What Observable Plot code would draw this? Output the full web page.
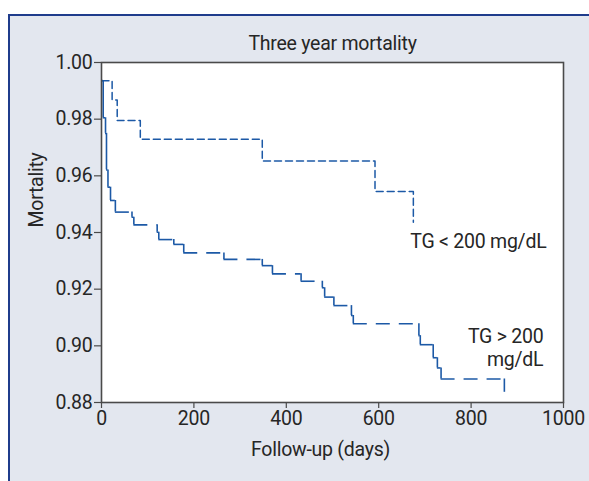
<!DOCTYPE html>
<html>
<head>
<meta charset="utf-8">
<script src="https://cdn.jsdelivr.net/npm/d3@7"></script>
<script src="https://cdn.jsdelivr.net/npm/@observablehq/plot@0.6"></script>
<style>
  html, body { margin: 0; padding: 0; background: #ffffff; }
  #wrap { position: relative; width: 589px; height: 481px; overflow: hidden; }
  #panel { position: absolute; left: 8px; top: 14px; right: 0; bottom: 0;
           background: #e3e7ef; border-top: 2px solid #1f3c8c; border-left: 2px solid #1f3c8c; }
  #chart { position: absolute; left: 0; top: 0; }
</style>
</head>
<body>
<div id="wrap"><div id="panel"></div><div id="chart"></div></div>
<script>
// ---- data ----
const daysLow  = [1, 23, 34, 84, 348, 592, 675];
const survLow  = [0.9936, 0.9868, 0.9795, 0.9729, 0.9652, 0.9545, 0.9436];

const daysHigh = [1, 3.7, 8.7, 10.8, 14, 19.5, 30, 66, 70, 120.5, 124, 156.5, 178, 265, 348, 370,
                  432, 478, 483, 503, 541, 545, 687, 690, 718, 727, 735, 872];
const survHigh = [0.9936, 0.9805, 0.9750, 0.9621, 0.9560, 0.9513, 0.9472, 0.9454, 0.9427, 0.9401,
                  0.9375, 0.9358, 0.9328, 0.9305, 0.9283, 0.9254, 0.9228, 0.9205, 0.9172, 0.9142,
                  0.9107, 0.9078, 0.9036, 0.9004, 0.8958, 0.8922, 0.8883, 0.8836];

const seriesLabels = ["TG < 200 mg/dL", "TG > 200\nmg/dL"];
const xTicks = [0, 200, 400, 600, 800, 1000];
const yTicks = [0.88, 0.90, 0.92, 0.94, 0.96, 0.98, 1.00];
const titleText = "Three year mortality";
const xLabel = "Follow-up (days)";
const yLabel = "Mortality";

// ---- derived tables ----
const low = daysLow.map((d, i) => ({day: d, surv: survLow[i]}));
const hHoriz = daysHigh.slice(0, -1).map((d, i) => ({x1: d, x2: daysHigh[i + 1], y: survHigh[i]}));
const hVert = daysHigh.slice(1).map((d, i) => ({x: d, y1: survHigh[i], y2: survHigh[i + 1]}));
const lowEnd = [{day: daysLow.at(-1), surv: survLow.at(-1), label: seriesLabels[0]}];
const highEnd = [{day: daysHigh.at(-1), surv: survHigh.at(-1), label: seriesLabels[1]}];

const blue = "#1c59a6";
const font = "Roboto, 'Liberation Sans', sans-serif";

const chart = Plot.plot({
  width: 589,
  height: 481,
  marginLeft: 101,
  marginRight: 26,
  marginTop: 62,
  marginBottom: 79,
  x: {domain: [0, 1000]},
  y: {domain: [0.88, 1.00]},
  style: {fontFamily: font, fontSize: "19.5px", color: "#262626", background: "transparent", overflow: "visible", letterSpacing: "-0.25px"},
  marks: [
    Plot.frame({fill: "white", stroke: "none"}),
    Plot.line(low, {x: "day", y: "surv", curve: "step-after", stroke: blue, strokeWidth: 1.5, strokeDasharray: "7,4"}),
    Plot.ruleY(hHoriz, {x1: "x1", x2: "x2", y: "y", stroke: blue, strokeWidth: 1.6, strokeDasharray: "14,9"}),
    Plot.ruleX(hVert, {x: "x", y1: "y1", y2: "y2", stroke: blue, strokeWidth: 1.6}),
    Plot.frame({stroke: "#4a4a4a", strokeWidth: 1.6}),
    Plot.axisX({ticks: xTicks, tickFormat: d3.format("d"), tickSize: 6, tickPadding: 3, label: null, stroke: "#4a4a4a", strokeWidth: 1.2}),
    Plot.axisY({ticks: yTicks, tickFormat: d3.format(".2f"), tickSize: 7, tickPadding: 2, label: null, stroke: "#4a4a4a", strokeWidth: 1.2}),
    Plot.text(lowEnd, {x: "day", y: "surv", text: "label", textAnchor: "start", lineAnchor: "middle", dx: -3, dy: 19, fill: "#262626", style: {wordSpacing: "2px"}}),
    Plot.text(highEnd, {x: "day", y: "surv", text: "label", textAnchor: "end", lineAnchor: "middle", dx: 39, dy: -45, lineHeight: 1.2, fill: "#262626"}),
    Plot.text([titleText], {frameAnchor: "top", lineAnchor: "middle", dy: -19, fill: "#262626"}),
    Plot.text([xLabel], {frameAnchor: "bottom", lineAnchor: "middle", dx: -12, dy: 47, fill: "#262626"}),
    Plot.text([yLabel], {frameAnchor: "left", lineAnchor: "middle", rotate: -90, dx: -65, dy: -5, fill: "#262626"})
  ]
});
document.getElementById("chart").appendChild(chart);
</script>
</body>
</html>
